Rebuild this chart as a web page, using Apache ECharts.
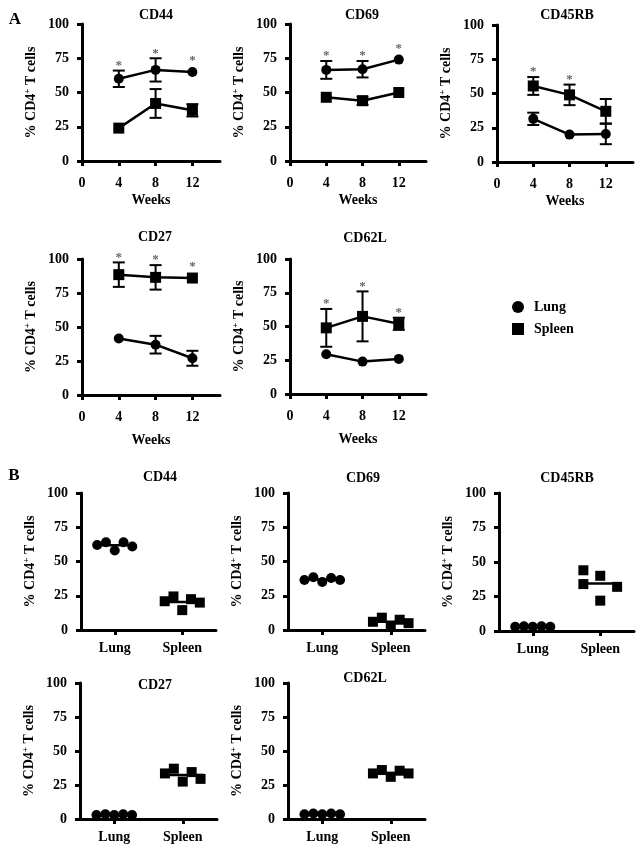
<!DOCTYPE html>
<html><head><meta charset="utf-8">
<script src="https://cdn.jsdelivr.net/npm/echarts@6/dist/echarts.min.js"></script>
<style>html,body{margin:0;padding:0;background:#fff}#c{width:644px;height:854px}</style>
</head><body><div id="c"></div>
<script>
// ---------- DATA ----------
const weeks = [4, 8, 12];
const weekTicks = [0, 4, 8, 12];
const groupsB = ['Lung', 'Spleen'];
const seriesNames = ['Lung', 'Spleen'];

// Panel A: mean and error (per week)
const cd44A_lung = [60, 66.5, 65];      const cd44A_lungErr = [6, 8.5, 0];
const cd44A_spleen = [24, 42, 37];      const cd44A_spleenErr = [0, 10.5, 4.5];
const cd44A_star = [1, 1, 1];

const cd69A_lung = [66.5, 67, 74];      const cd69A_lungErr = [6.5, 6, 0];
const cd69A_spleen = [46.5, 44, 50];    const cd69A_spleenErr = [0, 3, 0];
const cd69A_star = [1, 1, 1];

const cd45rbA_lung = [31.5, 20, 20.5];  const cd45rbA_lungErr = [4.5, 0, 7.5];
const cd45rbA_spleen = [55.5, 49, 37];  const cd45rbA_spleenErr = [6.5, 7.5, 9];
const cd45rbA_star = [1, 1, 0];

const cd27A_lung = [41.5, 37, 27];      const cd27A_lungErr = [0, 6.5, 5.5];
const cd27A_spleen = [88.5, 86.5, 86];  const cd27A_spleenErr = [9, 9, 0];
const cd27A_star = [1, 1, 1];

const cd62lA_lung = [29.5, 24, 26];     const cd62lA_lungErr = [0, 0, 0];
const cd62lA_spleen = [49, 57.5, 52];   const cd62lA_spleenErr = [14, 18.5, 4.5];
const cd62lA_star = [1, 1, 1];

// Panel B: individual values (5 mice per group)
const cd44B_lung = [62, 64, 58, 64, 61];
const cd44B_spleen = [21, 24.5, 14.5, 22.5, 20];
const cd69B_lung = [36.5, 38.5, 35, 38, 36.5];
const cd69B_spleen = [6, 9, 2.5, 7.5, 5];
const cd45rbB_lung = [3, 3.5, 3, 3.5, 3];
const cd45rbB_spleen = [44, 34, 40, 22, 32];
const cd27B_lung = [3, 3.5, 3, 3.5, 3];
const cd27B_spleen = [33.5, 37, 27.5, 34.5, 29.5];
const cd62lB_lung = [3.5, 4, 3.5, 4, 3.5];
const cd62lB_spleen = [33.5, 36, 31, 35.5, 33.5];
// horizontal scatter offsets within a category (point arrangement)
const jitterDefault = [-0.26, -0.13, 0, 0.13, 0.26];
const jitterCd45rbSpleen = [-0.25, -0.25, 0, 0, 0.25];

// ---------- STYLE / LAYOUT ----------
const FONT = '"Liberation Serif", "Times New Roman", serif';
const BLACK = '#000';
const txt = {fontFamily: FONT, fontWeight: 'bold', fontSize: 14, color: BLACK};
const yName = '{a|% CD4}{s|+}{a| T cells}';
const yNameStyle = {
  fontFamily: FONT, fontWeight: 'bold', fontSize: 14, color: BLACK,
  rich: {
    a: {fontFamily: FONT, fontWeight: 'bold', fontSize: 14, color: BLACK, lineHeight: 16},
    s: {fontFamily: FONT, fontWeight: 'bold', fontSize: 9, color: BLACK, lineHeight: 9, verticalAlign: 'top'}
  }
};

const panelsA = [
  {title: 'CD44', tx: 156, ty: 15, grid: {left: 82, top: 24, width: 138, height: 137}, gap: 32,
   lung: cd44A_lung, lungErr: cd44A_lungErr, spleen: cd44A_spleen, spleenErr: cd44A_spleenErr, star: cd44A_star},
  {title: 'CD69', tx: 362, ty: 15, grid: {left: 290, top: 24, width: 136, height: 137}, gap: 32,
   lung: cd69A_lung, lungErr: cd69A_lungErr, spleen: cd69A_spleen, spleenErr: cd69A_spleenErr, star: cd69A_star},
  {title: 'CD45RB', tx: 567, ty: 15, grid: {left: 497, top: 25, width: 136, height: 137}, gap: 32,
   lung: cd45rbA_lung, lungErr: cd45rbA_lungErr, spleen: cd45rbA_spleen, spleenErr: cd45rbA_spleenErr, star: cd45rbA_star},
  {title: 'CD27', tx: 155, ty: 237, grid: {left: 82, top: 259, width: 138, height: 136}, gap: 38,
   lung: cd27A_lung, lungErr: cd27A_lungErr, spleen: cd27A_spleen, spleenErr: cd27A_spleenErr, star: cd27A_star},
  {title: 'CD62L', tx: 365, ty: 238, grid: {left: 290, top: 259, width: 136, height: 135}, gap: 38,
   lung: cd62lA_lung, lungErr: cd62lA_lungErr, spleen: cd62lA_spleen, spleenErr: cd62lA_spleenErr, star: cd62lA_star}
];
const panelsB = [
  {title: 'CD44', tx: 160, ty: 477, grid: {left: 81, top: 493, width: 135, height: 137},
   lung: cd44B_lung, spleen: cd44B_spleen, jl: jitterDefault, js: jitterDefault},
  {title: 'CD69', tx: 363, ty: 478, grid: {left: 288, top: 493, width: 137, height: 137},
   lung: cd69B_lung, spleen: cd69B_spleen, jl: jitterDefault, js: jitterDefault},
  {title: 'CD45RB', tx: 567, ty: 478, grid: {left: 499, top: 493, width: 135, height: 138},
   lung: cd45rbB_lung, spleen: cd45rbB_spleen, jl: jitterDefault, js: jitterCd45rbSpleen},
  {title: 'CD27', tx: 155, ty: 685, grid: {left: 80, top: 683, width: 137, height: 136},
   lung: cd27B_lung, spleen: cd27B_spleen, jl: jitterDefault, js: jitterDefault},
  {title: 'CD62L', tx: 365, ty: 678, grid: {left: 288, top: 683, width: 137, height: 136},
   lung: cd62lB_lung, spleen: cd62lB_spleen, jl: jitterDefault, js: jitterDefault}
];

// ---------- HELPERS ----------
const mean = a => a.reduce((s, v) => s + v, 0) / a.length;

function yAxisDef(gi) {
  return {
    gridIndex: gi, type: 'value', min: 0, max: 100, interval: 25,
    name: yName, nameLocation: 'middle', nameGap: 43, nameTextStyle: yNameStyle,
    axisLine: {show: true, lineStyle: {color: BLACK, width: 3}},
    axisTick: {show: true, length: 5, lineStyle: {color: BLACK, width: 3}},
    axisLabel: Object.assign({margin: 13}, txt),
    splitLine: {show: false}
  };
}

function errRender(params, api) {
  const x = api.value(0), lo = api.value(1), hi = api.value(2);
  if (!(hi > lo)) return null;
  const a = api.coord([x, lo]), b = api.coord([x, hi]);
  const w = 6, st = {stroke: BLACK, lineWidth: 2};
  return {type: 'group', children: [
    {type: 'line', shape: {x1: a[0], y1: a[1], x2: b[0], y2: b[1]}, style: st},
    {type: 'line', shape: {x1: b[0] - w, y1: b[1], x2: b[0] + w, y2: b[1]}, style: st},
    {type: 'line', shape: {x1: a[0] - w, y1: a[1], x2: a[0] + w, y2: a[1]}, style: st}
  ]};
}
function starRender(params, api) {
  const x = api.value(0), hi = api.value(1), m = api.value(2);
  const pH = api.coord([x, hi]), pM = api.coord([x, m]);
  const y = Math.min(pH[1], pM[1] - 6) - 5;
  return {type: 'text', x: pH[0], y: y, style: {
    text: '*', align: 'center', verticalAlign: 'middle', textAlign: 'center', textVerticalAlign: 'middle',
    fontFamily: FONT, fontSize: 13, fontWeight: 'bold', fill: '#666'}};
}

// ---------- BUILD ----------
const grid = [], xAxis = [], yAxis = [], series = [], graphic = [];

panelsA.forEach((p, i) => {
  const gi = grid.length;
  grid.push(Object.assign({outerBoundsMode: 'none'}, p.grid));
  xAxis.push({
    gridIndex: gi, type: 'value', min: 0, max: 15,
    name: 'Weeks', nameLocation: 'middle', nameGap: p.gap, nameTextStyle: txt,
    axisLine: {show: true, lineStyle: {color: BLACK, width: 3}},
    axisTick: {show: true, length: 5, customValues: weekTicks, lineStyle: {color: BLACK, width: 3}},
    axisLabel: Object.assign({margin: 15, customValues: weekTicks}, txt),
    splitLine: {show: false}
  });
  yAxis.push(yAxisDef(gi));
  const groups = [
    {name: 'Lung', m: p.lung, e: p.lungErr, sym: 'circle', size: 10},
    {name: 'Spleen', m: p.spleen, e: p.spleenErr, sym: 'rect', size: 11}
  ];
  groups.forEach(g => {
    series.push({
      type: 'custom', name: g.name + ' err', xAxisIndex: gi, yAxisIndex: gi, renderItem: errRender,
      encode: {x: 0, y: [1, 2]}, z: 2, silent: true, clip: false,
      data: weeks.map((w, k) => [w, g.m[k] - g.e[k], g.m[k] + g.e[k]])
    });
    series.push({
      type: 'line', name: g.name, xAxisIndex: gi, yAxisIndex: gi, symbol: g.sym, symbolSize: g.size,
      showSymbol: true, itemStyle: {color: BLACK, opacity: 1}, lineStyle: {color: BLACK, width: 2.5}, z: 3, clip: false,
      data: weeks.map((w, k) => [w, g.m[k]])
    });
  });
  const starData = [];
  weeks.forEach((w, k) => {
    if (!p.star[k]) return;
    const top = p.lung[k] >= p.spleen[k] ? groups[0] : groups[1];
    starData.push([w, top.m[k] + top.e[k], top.m[k]]);
  });
  series.push({type: 'custom', name: 'sig', xAxisIndex: gi, yAxisIndex: gi, renderItem: starRender,
    encode: {x: 0, y: 1}, z: 4, silent: true, clip: false, data: starData});
  graphic.push({type: 'text', x: p.tx, y: p.ty, silent: true, style: {text: p.title, align: 'center', verticalAlign: 'middle',
    textAlign: 'center', textVerticalAlign: 'middle', fontFamily: FONT, fontWeight: 'bold', fontSize: 14, fill: BLACK}});
});

panelsB.forEach((p, i) => {
  const gi = grid.length;
  grid.push(Object.assign({outerBoundsMode: 'none'}, p.grid));
  const centers = groupsB.map((g, k) => k + 0.5);
  xAxis.push({
    gridIndex: gi, type: 'value', min: 0, max: groupsB.length,
    axisLine: {show: true, lineStyle: {color: BLACK, width: 3}},
    axisTick: {show: true, length: 5, customValues: centers, lineStyle: {color: BLACK, width: 3}},
    axisLabel: Object.assign({margin: 11, customValues: centers,
      formatter: v => groupsB[Math.round(v - 0.5)] || ''}, txt),
    splitLine: {show: false}
  });
  yAxis.push(yAxisDef(gi));
  const sets = [
    {name: 'Lung', vals: p.lung, jit: p.jl, c: 0.5, sym: 'circle', size: 10},
    {name: 'Spleen', vals: p.spleen, jit: p.js, c: 1.5, sym: 'rect', size: 10}
  ];
  sets.forEach(s => {
    series.push({
      type: 'scatter', name: s.name, xAxisIndex: gi, yAxisIndex: gi, symbol: s.sym, symbolSize: s.size,
      itemStyle: {color: BLACK, opacity: 1}, z: 3, clip: false,
      data: s.vals.map((v, k) => [s.c + s.jit[k], v])
    });
    const mv = mean(s.vals);
    series.push({
      type: 'line', name: s.name + ' mean', xAxisIndex: gi, yAxisIndex: gi, showSymbol: false, symbol: 'none',
      lineStyle: {color: BLACK, width: 2.5}, z: 4, clip: false, silent: true,
      data: [[s.c - 0.3, mv], [s.c + 0.3, mv]]
    });
  });
  graphic.push({type: 'text', x: p.tx, y: p.ty, silent: true, style: {text: p.title, align: 'center', verticalAlign: 'middle',
    textAlign: 'center', textVerticalAlign: 'middle', fontFamily: FONT, fontWeight: 'bold', fontSize: 14, fill: BLACK}});
});

graphic.push({type: 'text', x: 15, y: 20, silent: true, style: {text: 'A', align: 'center', verticalAlign: 'middle',
  textAlign: 'center', textVerticalAlign: 'middle', fontFamily: FONT, fontWeight: 'bold', fontSize: 17, fill: BLACK}});
graphic.push({type: 'text', x: 14, y: 476, silent: true, style: {text: 'B', align: 'center', verticalAlign: 'middle',
  textAlign: 'center', textVerticalAlign: 'middle', fontFamily: FONT, fontWeight: 'bold', fontSize: 17, fill: BLACK}});

const option = {
  animation: false,
  backgroundColor: '#fff',
  grid, xAxis, yAxis, series, graphic,
  legend: {
    orient: 'vertical', left: 507, top: 295, itemWidth: 12, itemHeight: 12, itemGap: 8,
    selectedMode: false,
    data: [{name: seriesNames[0], icon: 'circle'}, {name: seriesNames[1], icon: 'rect'}],
    textStyle: Object.assign({padding: [0, 0, 0, 5]}, txt)
  }
};

const chart = echarts.init(document.getElementById('c'), null, {renderer: 'canvas'});
chart.setOption(option);
</script></body></html>
